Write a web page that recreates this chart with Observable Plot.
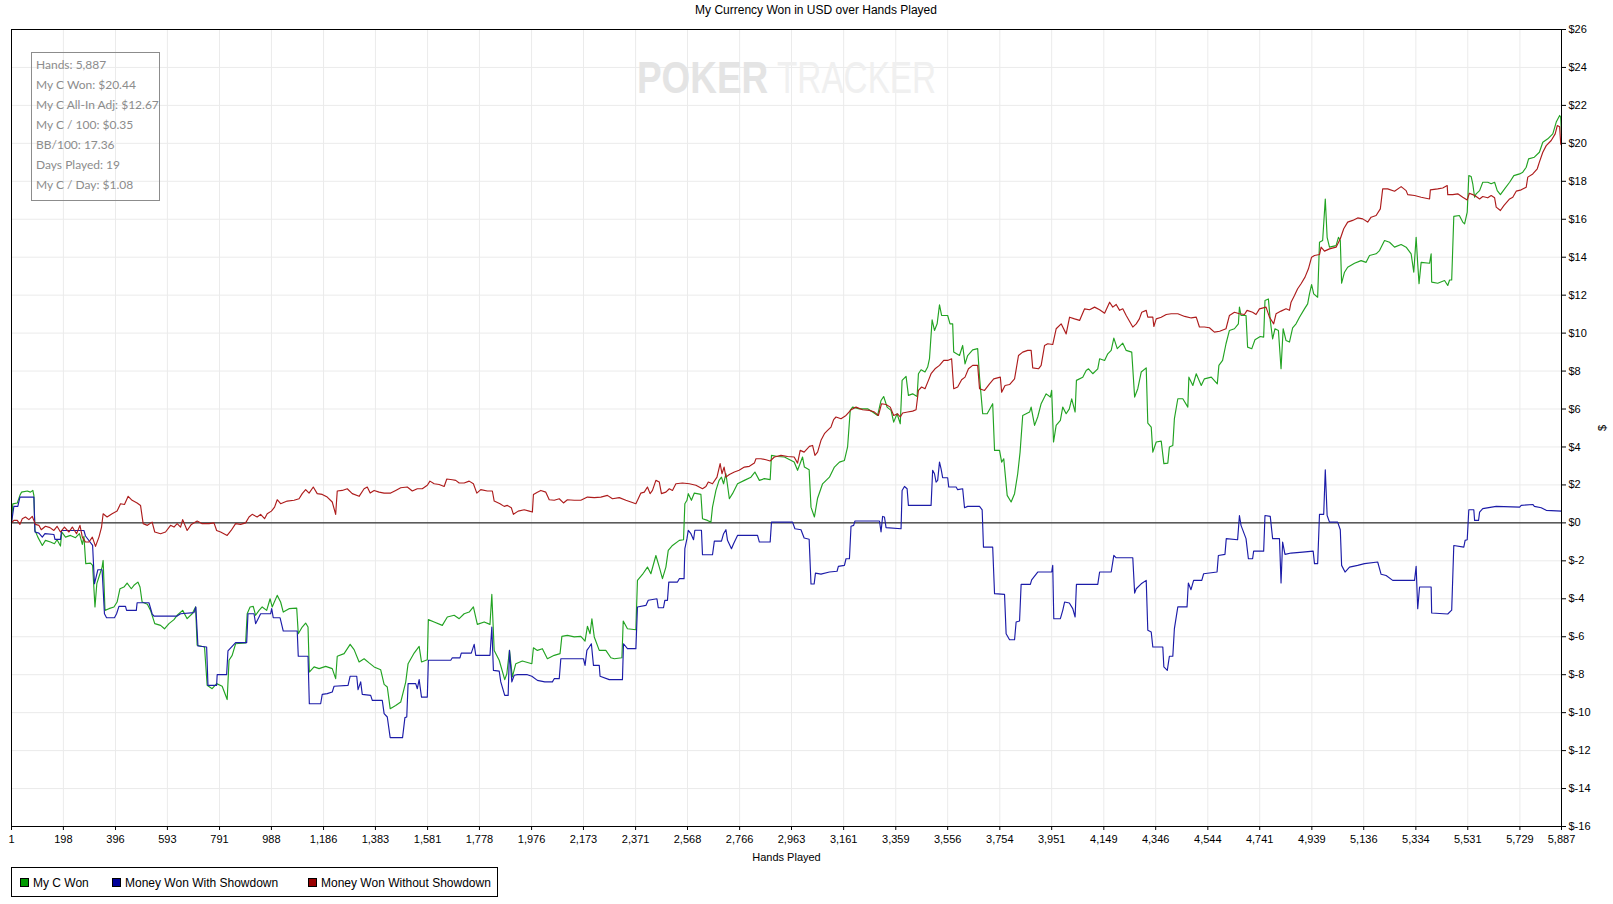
<!DOCTYPE html>
<html>
<head>
<meta charset="utf-8">
<script src="https://cdn.jsdelivr.net/npm/d3@7"></script>
<script src="https://cdn.jsdelivr.net/npm/@observablehq/plot@0.6"></script>
<style>
  html, body { margin: 0; padding: 0; background: #fff; }
  #wrap { position: relative; width: 1613px; height: 904px; font-family: "Liberation Sans", Arial, sans-serif; }
  #title { position: absolute; top: 3px; left: 0; width: 1632px; text-align: center; font-size: 12px; color: #000; }
  #chart { position: absolute; top: 0; left: 0; }
  #stats { position: absolute; left: 31px; top: 52px; width: 127px; height: 147px; border: 1px solid #8c8c8c; }
  #stats div { position: absolute; left: 4px; font-family: Lato, "Open Sans", sans-serif; font-size: 12px; color: #8c8c8c; white-space: nowrap; }
  #legend { position: absolute; left: 11px; top: 867px; width: 487px; height: 30px; border: 1px solid #000; box-sizing: border-box; }
  .li { position: absolute; top: 9px; font-size: 12px; color: #000; white-space: nowrap; line-height: 13px; }
  .sw { display: inline-block; width: 7px; height: 7px; border: 1px solid #000; margin-right: 4px; vertical-align: 0px; }
  #wm { position: absolute; left: 0; top: 0; pointer-events: none; }
</style>
</head>
<body>
<div id="wrap">
  <div id="chart"></div>
  <svg id="wm" width="1613" height="120"></svg>
  <div id="title"></div>
  <div id="stats"></div>
  <div id="legend"></div>
</div>
<script>
const titleText = "My Currency Won in USD over Hands Played";
const statsLines = ["Hands: 5,887", "My C Won: $20.44", "My C All-In Adj: $12.67", "My C / 100: $0.35", "BB/100: 17.36", "Days Played: 19", "My C / Day: $1.08"];
const seriesNames = ["My C Won", "Money Won With Showdown", "Money Won Without Showdown"];
const lineColors = ["#22a322", "#1c1ca8", "#ad1c1c"];
const swatchColors = ["#009a00", "#000099", "#990000"];
const xTicks = [1,198,396,593,791,988,1186,1383,1581,1778,1976,2173,2371,2568,2766,2963,3161,3359,3556,3754,3951,4149,4346,4544,4741,4939,5136,5334,5531,5729,5887];
const yTicks = [-16,-14,-12,-10,-8,-6,-4,-2,0,2,4,6,8,10,12,14,16,18,20,22,24,26];

const myCWon = [[1,0],[6,1.0],[23,1.05],[33,1.45],[39,1.62],[61,1.68],[73,1.62],[82,1.71],[86,1.45],[90,-0.39],[101,-0.75],[118,-1.19],[130,-0.92],[149,-1.01],[164,-1.1],[174,-0.89],[187,-1.22],[192,-0.48],[206,-0.75],[225,-0.66],[244,-0.78],[259,-0.57],[270,-1.13],[276,-0.71],[283,-2.15],[301,-2.12],[309,-2.24],[318,-4.43],[325,-3.2],[333,-2.85],[345,-2.33],[349,-1.98],[356,-4.61],[371,-4.52],[390,-4.43],[402,-4.17],[413,-3.47],[428,-3.38],[440,-3.17],[456,-3.47],[466,-3.29],[481,-3.12],[489,-3.38],[497,-4.17],[517,-4.29],[529,-4.61],[545,-5.31],[567,-5.4],[582,-5.58],[599,-5.31],[618,-5.1],[630,-4.87],[651,-4.61],[668,-5.05],[687,-4.79],[700,-4.43],[706,-6.45],[734,-6.54],[744,-8.56],[763,-8.74],[780,-8.47],[801,-8.61],[820,-9.31],[827,-7.24],[839,-6.98],[852,-6.37],[890,-6.33],[896,-4.79],[907,-4.43],[919,-4.4],[928,-4.87],[941,-4.61],[953,-4.43],[970,-4.61],[983,-4.0],[991,-4.43],[1010,-3.82],[1023,-4.17],[1033,-4.7],[1055,-4.52],[1084,-4.49],[1090,-5.84],[1105,-5.49],[1118,-5.28],[1127,-5.49],[1132,-7.86],[1150,-7.59],[1169,-7.68],[1194,-7.56],[1219,-7.68],[1232,-8.21],[1238,-7.03],[1264,-6.89],[1287,-6.4],[1302,-6.68],[1321,-7.33],[1340,-7.16],[1359,-7.38],[1378,-7.59],[1403,-7.74],[1416,-8.51],[1428,-8.65],[1439,-9.79],[1460,-9.62],[1479,-9.44],[1498,-8.39],[1507,-7.42],[1530,-6.86],[1549,-6.51],[1558,-7.33],[1580,-7.21],[1584,-5.1],[1606,-5.22],[1637,-5.4],[1656,-4.96],[1682,-4.87],[1701,-5.05],[1720,-4.79],[1739,-4.7],[1755,-4.43],[1770,-5.35],[1796,-5.22],[1818,-5.35],[1825,-3.77],[1834,-6.72],[1853,-7.24],[1874,-8.26],[1882,-7.95],[1892,-6.72],[1903,-8.12],[1916,-7.42],[1941,-7.28],[1977,-7.42],[1983,-6.58],[1998,-6.72],[2017,-6.63],[2036,-7.16],[2062,-6.98],[2084,-6.89],[2091,-5.98],[2112,-5.93],[2138,-6.01],[2163,-5.98],[2179,-6.23],[2188,-5.45],[2198,-5.84],[2205,-5.05],[2214,-6.01],[2233,-6.72],[2258,-6.72],[2277,-7.11],[2290,-7.16],[2319,-7.11],[2324,-5.17],[2340,-5.58],[2372,-5.63],[2378,-3.03],[2397,-2.72],[2416,-2.33],[2429,-2.68],[2448,-1.72],[2461,-2.33],[2473,-2.94],[2486,-2.33],[2495,-1.45],[2511,-1.19],[2537,-0.92],[2553,-0.89],[2558,1.01],[2566,1.19],[2571,1.54],[2583,1.19],[2594,1.57],[2619,1.5],[2625,0.22],[2644,0.13],[2657,0.04],[2663,0.83],[2676,1.71],[2688,2.24],[2697,2.41],[2705,2.06],[2714,2.59],[2727,1.27],[2739,1.54],[2758,2.06],[2784,2.24],[2809,2.41],[2824,2.68],[2841,2.24],[2860,2.33],[2882,2.28],[2887,3.56],[2910,3.5],[2936,3.47],[2973,3.21],[2986,2.77],[3005,3.47],[3012,2.94],[3030,2.8],[3037,0.83],[3050,0.31],[3062,1.3],[3081,2.06],[3107,2.41],[3126,2.94],[3145,3.2],[3164,3.29],[3176,4.0],[3186,5.93],[3195,6.1],[3221,6.01],[3252,6.01],[3271,5.84],[3290,5.66],[3303,6.45],[3313,6.66],[3326,6.1],[3341,5.93],[3351,5.31],[3364,5.75],[3376,5.22],[3383,7.51],[3398,7.72],[3407,6.72],[3423,6.8],[3440,6.66],[3445,7.86],[3455,8.07],[3470,7.95],[3480,8.21],[3487,8.65],[3497,10.7],[3506,10.14],[3516,10.49],[3525,11.49],[3533,10.93],[3556,10.93],[3565,10.49],[3575,10.49],[3579,9.0],[3601,8.82],[3613,9.35],[3622,8.38],[3632,8.82],[3651,9.12],[3670,9.18],[3677,7.68],[3689,5.75],[3706,5.75],[3727,6.28],[3734,3.82],[3753,3.82],[3761,3.2],[3769,3.38],[3782,1.45],[3797,1.1],[3810,1.54],[3822,2.59],[3831,3.73],[3841,5.66],[3867,5.84],[3873,6.1],[3886,5.14],[3898,5.58],[3911,6.28],[3930,6.8],[3946,6.63],[3951,6.98],[3958,4.26],[3968,5.14],[3984,5.4],[3993,6.1],[4006,5.75],[4018,6.01],[4027,6.54],[4040,5.84],[4045,7.51],[4069,7.68],[4082,8.03],[4091,8.12],[4107,7.86],[4126,8.12],[4133,8.65],[4152,8.56],[4164,8.91],[4177,9.09],[4187,9.74],[4200,9.18],[4221,9.47],[4234,9.09],[4255,9.0],[4266,6.63],[4278,7.07],[4291,7.95],[4310,8.17],[4316,5.26],[4329,5.05],[4335,3.73],[4348,4.26],[4367,4.31],[4377,3.12],[4392,3.15],[4398,4.0],[4411,4.08],[4417,5.49],[4430,6.54],[4449,6.54],[4468,6.1],[4472,7.68],[4487,7.24],[4500,7.86],[4519,7.24],[4531,7.59],[4557,7.68],[4580,7.33],[4586,8.3],[4600,8.56],[4613,9.44],[4626,10.14],[4645,10.23],[4660,10.49],[4664,11.37],[4670,10.93],[4689,10.93],[4695,9.26],[4711,9.18],[4723,9.65],[4743,9.82],[4756,9.79],[4761,11.72],[4774,11.8],[4781,10.67],[4790,9.7],[4799,10.23],[4812,10.14],[4822,8.12],[4830,10.23],[4841,9.61],[4854,9.53],[4866,10.28],[4879,10.49],[4892,10.84],[4911,11.28],[4923,11.54],[4930,12.07],[4938,12.56],[4946,12.07],[4961,11.89],[4968,14.79],[4980,14.88],[4990,17.07],[4997,15.05],[5006,14.53],[5031,14.61],[5040,15.05],[5047,14.88],[5052,12.63],[5063,13.21],[5075,13.47],[5101,13.68],[5126,13.82],[5145,13.73],[5158,14.09],[5183,14.18],[5196,14.35],[5215,14.88],[5234,14.79],[5253,14.53],[5278,14.67],[5297,14.53],[5316,14.18],[5326,13.21],[5335,15.05],[5341,13.65],[5346,12.6],[5354,13.73],[5386,13.68],[5392,14.18],[5394,12.69],[5417,12.63],[5443,12.77],[5455,12.51],[5462,12.8],[5470,12.8],[5478,16.15],[5499,16.2],[5512,15.85],[5519,15.76],[5529,16.37],[5535,18.3],[5544,18.25],[5550,17.87],[5557,17.16],[5563,17.34],[5576,17.51],[5588,17.95],[5607,17.95],[5620,17.87],[5633,17.95],[5643,17.51],[5655,17.3],[5671,17.6],[5690,17.95],[5706,18.3],[5728,18.39],[5740,18.48],[5753,18.74],[5762,19.18],[5784,19.27],[5803,19.53],[5816,20.06],[5835,20.24],[5854,20.5],[5867,21.12],[5880,21.47],[5884,21.38],[5887,20.44]];

const wonWithShowdown = [[1,0],[10,0.87],[25,0.87],[33,1.36],[86,1.36],[90,-0.48],[105,-0.54],[118,-0.75],[128,-0.57],[162,-0.61],[166,-0.87],[187,-0.87],[191,-0.4],[276,-0.4],[282,-0.69],[309,-1.19],[316,-3.21],[329,-2.47],[345,-2.47],[354,-4.79],[362,-5.0],[392,-5.0],[400,-4.79],[409,-4.4],[434,-4.4],[438,-4.61],[475,-4.61],[478,-4.21],[523,-4.21],[535,-4.79],[542,-4.91],[630,-4.91],[643,-4.79],[694,-4.73],[701,-4.43],[709,-6.49],[742,-6.54],[747,-8.56],[780,-8.56],[782,-8.0],[818,-8.0],[823,-6.75],[852,-6.31],[894,-6.31],[899,-4.79],[922,-4.79],[928,-5.31],[941,-4.96],[947,-4.79],[985,-4.79],[989,-4.52],[995,-5.0],[1021,-5.0],[1033,-5.7],[1086,-5.7],[1090,-7.03],[1127,-7.03],[1132,-9.53],[1175,-9.53],[1181,-9.04],[1200,-9.0],[1219,-8.91],[1226,-8.61],[1279,-8.56],[1287,-8.08],[1312,-8.08],[1317,-8.79],[1327,-8.38],[1333,-9.04],[1365,-9.09],[1371,-9.35],[1409,-9.35],[1416,-10.05],[1428,-10.23],[1439,-11.32],[1486,-11.32],[1495,-10.26],[1502,-10.23],[1507,-8.47],[1536,-8.47],[1542,-8.74],[1549,-8.26],[1558,-9.18],[1580,-9.18],[1584,-7.24],[1669,-7.24],[1675,-7.11],[1704,-7.11],[1709,-6.86],[1747,-6.86],[1758,-6.4],[1764,-6.98],[1818,-6.98],[1825,-5.49],[1831,-7.77],[1853,-7.81],[1859,-8.38],[1874,-9.09],[1887,-9.09],[1892,-6.72],[1901,-8.38],[1910,-8.03],[1922,-8.0],[1960,-8.0],[1977,-8.08],[1998,-8.3],[2026,-8.38],[2055,-8.38],[2062,-8.21],[2081,-8.21],[2087,-7.16],[2173,-7.16],[2179,-7.51],[2186,-6.72],[2195,-6.54],[2203,-6.37],[2211,-7.51],[2233,-7.51],[2236,-8.08],[2271,-8.26],[2321,-8.26],[2325,-6.37],[2340,-6.63],[2372,-6.63],[2378,-4.43],[2410,-4.35],[2419,-4.08],[2452,-4.0],[2457,-4.47],[2477,-4.47],[2482,-4.08],[2492,-4.08],[2497,-3.12],[2530,-3.12],[2537,-2.94],[2555,-2.94],[2558,-1.36],[2566,-0.83],[2571,-0.39],[2581,-0.57],[2591,-0.89],[2596,-0.39],[2621,-0.39],[2625,-1.68],[2663,-1.68],[2670,-0.96],[2697,-0.96],[2705,-0.57],[2714,-0.36],[2720,-0.92],[2735,-1.36],[2743,-1.1],[2758,-0.66],[2834,-0.66],[2841,-1.01],[2882,-1.01],[2887,0.04],[2967,0.04],[2976,-0.31],[2999,-0.36],[3011,-0.8],[3030,-0.86],[3037,-3.22],[3049,-3.22],[3054,-2.65],[3075,-2.7],[3107,-2.59],[3136,-2.55],[3141,-2.29],[3164,-2.24],[3170,-1.89],[3183,-1.89],[3189,-0.18],[3199,-0.13],[3204,0.1],[3297,0.1],[3303,-0.48],[3309,0.34],[3316,0.31],[3322,-0.25],[3379,-0.31],[3383,1.71],[3392,1.92],[3402,1.8],[3407,0.92],[3493,0.92],[3499,2.77],[3506,2.59],[3512,2.15],[3518,2.24],[3525,3.2],[3531,2.85],[3537,2.38],[3556,2.38],[3560,1.89],[3588,1.89],[3594,1.75],[3613,1.8],[3620,0.8],[3632,0.87],[3677,0.87],[3687,0.69],[3692,-1.28],[3727,-1.28],[3734,-3.73],[3772,-3.77],[3778,-5.84],[3791,-6.16],[3810,-6.16],[3816,-5.22],[3829,-5.17],[3835,-3.24],[3870,-3.24],[3875,-3.0],[3898,-2.59],[3951,-2.59],[3955,-2.24],[3959,-5.05],[3984,-5.05],[3993,-4.61],[4000,-4.17],[4018,-4.22],[4031,-4.52],[4040,-4.96],[4045,-3.24],[4126,-3.24],[4133,-2.59],[4177,-2.59],[4187,-1.71],[4196,-1.84],[4259,-1.84],[4266,-3.7],[4272,-3.47],[4291,-3.21],[4310,-3.03],[4316,-5.66],[4329,-5.75],[4335,-6.54],[4373,-6.54],[4377,-7.59],[4390,-7.77],[4398,-7.03],[4411,-7.03],[4417,-5.57],[4430,-4.43],[4465,-4.43],[4470,-3.17],[4480,-3.52],[4490,-3.03],[4521,-3.03],[4528,-2.68],[4579,-2.59],[4584,-1.72],[4609,-1.66],[4614,-0.83],[4657,-0.89],[4664,0.39],[4670,-0.13],[4689,-0.83],[4698,-1.89],[4714,-1.89],[4718,-1.49],[4756,-1.49],[4761,0.39],[4781,0.34],[4790,-0.83],[4816,-0.83],[4822,-3.17],[4828,-1.01],[4837,-1.66],[4860,-1.59],[4904,-1.54],[4944,-1.49],[4949,-2.15],[4961,-2.15],[4968,0.45],[4984,0.45],[4990,2.8],[4997,0.39],[5006,0.04],[5037,0.04],[5047,-0.36],[5052,-2.24],[5065,-2.59],[5082,-2.33],[5113,-2.24],[5139,-2.15],[5189,-2.06],[5202,-2.71],[5221,-2.77],[5246,-3.03],[5329,-3.03],[5335,-2.29],[5341,-4.52],[5348,-3.38],[5392,-3.38],[5394,-4.75],[5455,-4.8],[5470,-4.6],[5478,-1.19],[5516,-1.28],[5521,-0.92],[5529,-0.89],[5535,0.69],[5554,0.69],[5557,0.13],[5572,0.13],[5576,0.57],[5588,0.75],[5639,0.87],[5728,0.83],[5734,0.92],[5778,0.97],[5784,0.87],[5810,0.8],[5829,0.66],[5887,0.62]];

const wonWithoutShowdown = [[1,0],[10,0.13],[23,0.13],[33,-0.08],[42,0.22],[54,0.31],[67,0.17],[80,0.34],[86,0.13],[92,-0.08],[105,-0.13],[114,-0.36],[130,-0.18],[147,-0.25],[162,-0.4],[174,-0.18],[187,-0.48],[202,-0.22],[219,-0.48],[232,-0.22],[248,-0.57],[261,-0.13],[270,-0.75],[282,-1.01],[295,-1.01],[308,-0.75],[320,-1.24],[333,-0.75],[343,-0.22],[349,0.48],[364,0.31],[383,0.48],[402,0.62],[415,1.01],[430,0.97],[444,1.4],[459,1.19],[478,1.05],[491,0.92],[501,-0.04],[517,-0.13],[535,0.04],[545,-0.48],[567,-0.57],[586,-0.48],[605,-0.13],[618,-0.22],[630,-0.04],[643,-0.22],[651,0.17],[668,-0.4],[684,-0.08],[706,0.1],[725,-0.04],[751,-0.04],[770,0.0],[780,-0.4],[795,-0.48],[820,-0.66],[835,-0.4],[852,-0.04],[871,-0.08],[890,0.0],[903,0.31],[915,0.45],[934,0.31],[947,0.45],[962,0.22],[972,0.48],[988,0.62],[1000,0.83],[1010,1.22],[1023,1.01],[1048,1.15],[1074,1.19],[1093,1.27],[1105,1.54],[1118,1.75],[1131,1.57],[1147,1.89],[1162,1.54],[1181,1.5],[1200,1.36],[1219,1.1],[1232,0.45],[1238,1.68],[1257,1.71],[1276,1.8],[1295,1.54],[1321,1.4],[1340,1.8],[1352,1.89],[1363,1.57],[1378,1.71],[1397,1.62],[1416,1.57],[1441,1.57],[1460,1.71],[1479,1.85],[1504,1.89],[1523,1.68],[1542,1.8],[1561,1.8],[1580,1.98],[1590,2.2],[1606,2.06],[1625,2.02],[1644,1.92],[1654,2.31],[1675,2.27],[1688,2.24],[1701,2.1],[1720,2.1],[1739,2.2],[1755,2.06],[1768,1.57],[1783,1.75],[1808,1.68],[1827,1.68],[1834,1.15],[1856,1.01],[1872,0.87],[1884,0.92],[1899,0.8],[1907,0.45],[1925,0.62],[1948,0.69],[1967,0.62],[1979,0.57],[1983,1.5],[1998,1.62],[2011,1.71],[2030,1.62],[2043,1.22],[2062,1.19],[2081,1.27],[2097,1.05],[2112,1.22],[2138,1.19],[2163,1.19],[2188,1.36],[2214,1.33],[2239,1.36],[2264,1.45],[2283,1.27],[2309,1.33],[2334,1.19],[2353,1.1],[2372,1.01],[2381,1.27],[2391,1.57],[2404,1.62],[2416,1.89],[2426,1.54],[2435,1.71],[2448,2.24],[2461,2.15],[2469,1.54],[2486,1.62],[2499,1.8],[2511,1.71],[2524,2.06],[2549,2.1],[2575,2.06],[2600,1.98],[2625,1.8],[2638,1.92],[2647,2.15],[2663,2.06],[2680,2.41],[2692,3.12],[2699,2.59],[2707,2.94],[2714,2.41],[2727,2.55],[2746,2.68],[2764,2.77],[2784,2.94],[2803,2.98],[2822,3.15],[2828,3.38],[2847,3.38],[2866,3.33],[2882,3.26],[2898,3.47],[2923,3.56],[2948,3.5],[2973,3.47],[2986,3.15],[2996,3.82],[3011,3.73],[3031,4.03],[3043,4.08],[3052,3.56],[3062,3.73],[3075,4.35],[3088,4.7],[3100,4.87],[3113,5.05],[3123,5.44],[3132,5.58],[3151,5.49],[3170,5.66],[3189,5.96],[3208,6.1],[3233,5.96],[3259,5.93],[3278,5.84],[3293,5.66],[3305,6.28],[3322,6.24],[3338,6.1],[3351,5.66],[3366,5.75],[3376,5.58],[3385,5.79],[3404,5.84],[3423,5.89],[3436,5.96],[3445,6.98],[3457,7.16],[3470,7.07],[3483,7.51],[3493,7.86],[3508,8.12],[3525,8.3],[3541,8.56],[3556,8.56],[3571,8.65],[3579,7.07],[3594,7.16],[3609,7.54],[3622,7.68],[3635,8.12],[3651,8.3],[3670,8.3],[3677,7.07],[3696,6.98],[3715,7.33],[3731,7.59],[3756,7.68],[3761,6.89],[3774,7.24],[3791,7.29],[3810,7.59],[3825,8.82],[3841,9.0],[3860,9.09],[3873,9.09],[3879,8.17],[3901,8.12],[3911,8.3],[3924,9.35],[3936,9.44],[3955,9.4],[3968,10.23],[3987,10.49],[4006,9.96],[4019,10.84],[4038,10.75],[4057,10.67],[4076,11.28],[4095,11.23],[4114,11.37],[4133,11.23],[4152,11.05],[4171,11.63],[4183,11.37],[4196,11.51],[4209,11.2],[4221,11.28],[4234,10.93],[4259,10.32],[4272,10.49],[4284,10.75],[4293,11.1],[4310,11.2],[4316,10.84],[4335,10.84],[4339,10.35],[4348,10.75],[4367,10.84],[4386,10.98],[4405,11.02],[4430,11.02],[4456,10.88],[4481,10.8],[4500,10.84],[4512,10.32],[4531,10.32],[4550,10.28],[4569,10.05],[4589,10.1],[4613,10.23],[4626,10.93],[4645,11.1],[4664,11.02],[4683,10.98],[4693,11.2],[4714,11.1],[4727,10.98],[4740,11.28],[4765,11.37],[4778,10.84],[4794,10.49],[4803,11.02],[4822,11.16],[4841,11.28],[4854,11.2],[4860,11.63],[4873,11.98],[4885,12.34],[4898,12.6],[4913,12.95],[4926,13.39],[4938,14.0],[4949,14.09],[4968,14.14],[4974,14.53],[4987,14.32],[5006,14.44],[5031,14.53],[5047,14.97],[5060,15.5],[5075,15.85],[5094,15.94],[5113,16.07],[5132,16.02],[5151,15.85],[5164,16.11],[5183,16.2],[5199,16.55],[5208,17.6],[5227,17.6],[5253,17.48],[5278,17.72],[5297,17.51],[5303,17.3],[5329,17.25],[5354,17.16],[5386,17.07],[5389,17.55],[5417,17.6],[5436,17.65],[5453,17.78],[5455,17.3],[5474,17.3],[5493,17.34],[5512,17.16],[5529,17.02],[5537,17.37],[5550,17.3],[5563,17.2],[5576,17.07],[5588,17.2],[5607,17.13],[5620,17.25],[5633,17.13],[5639,16.64],[5655,16.46],[5668,16.72],[5690,17.07],[5702,17.16],[5715,17.48],[5734,17.55],[5753,17.69],[5759,18.22],[5778,18.39],[5795,18.66],[5803,19.01],[5816,19.53],[5829,19.88],[5848,20.15],[5863,20.5],[5871,20.94],[5880,20.88],[5884,19.97],[5887,19.9]];

const series = [myCWon, wonWithShowdown, wonWithoutShowdown];
const drawOrder = [0, 1, 2];

const lineMarks = drawOrder.map(i => Plot.line(series[i], {x: d => d[0], y: d => d[1], stroke: lineColors[i], strokeWidth: 1.15}));

const chart = Plot.plot({
  width: 1613,
  height: 866,
  marginTop: 29,
  marginLeft: 11,
  marginRight: 52,
  marginBottom: 40,
  style: {fontFamily: "'Liberation Sans', Arial, sans-serif", fontSize: "11px", color: "#000", background: "transparent"},
  x: {type: "linear", domain: [1, 5887]},
  y: {type: "linear", domain: [-16, 26]},
  marks: [
    Plot.gridX(xTicks, {stroke: "#ebebeb", strokeOpacity: 1}),
    Plot.gridY(yTicks, {stroke: "#ebebeb", strokeOpacity: 1}),
    Plot.ruleY([0], {stroke: "#000", strokeWidth: 1}),
    ...lineMarks,
    Plot.frame({stroke: "#000", strokeWidth: 1}),
    Plot.axisX({ticks: xTicks, tickFormat: d3.format(","), tickSize: 4, tickPadding: 5, label: "Hands Played", labelAnchor: "center", labelArrow: "none", labelOffset: 34, fontSize: 11}),
    Plot.axisY({anchor: "right", ticks: yTicks, tickFormat: d => "$" + d, tickSize: 4, tickPadding: 3, label: "$", labelAnchor: "center", labelArrow: "none", labelOffset: 44, fontSize: 11})
  ]
});
document.getElementById("chart").appendChild(chart);

document.getElementById("title").textContent = titleText;

const stats = document.getElementById("stats");
statsLines.forEach((t, i) => {
  const d = document.createElement("div");
  d.textContent = t;
  d.style.top = (4 + i * 20) + "px";
  stats.appendChild(d);
});

const legend = document.getElementById("legend");
const legendX = [8, 100, 296];
seriesNames.forEach((n, i) => {
  const d = document.createElement("div");
  d.className = "li";
  d.style.left = legendX[i] + "px";
  const s = document.createElement("span");
  s.className = "sw";
  s.style.background = swatchColors[i];
  d.appendChild(s);
  d.appendChild(document.createTextNode(n));
  legend.appendChild(d);
});

// watermark: two texts horizontally condensed by a transform, with a small gap
const wm = d3.select("#wm");
wm.append("text").attr("transform", "translate(637,93) scale(0.82,1)")
  .attr("font-family", "Liberation Sans, Arial").attr("font-weight", "bold").attr("font-size", 45).attr("fill", "#e4e4e4").text("POKER");
wm.append("text").attr("transform", "translate(777,93) scale(0.74,1)")
  .attr("font-family", "Liberation Sans, Arial").attr("font-size", 45).attr("fill", "#f0f0f0").text("TRACKER");
</script>
</body>
</html>
